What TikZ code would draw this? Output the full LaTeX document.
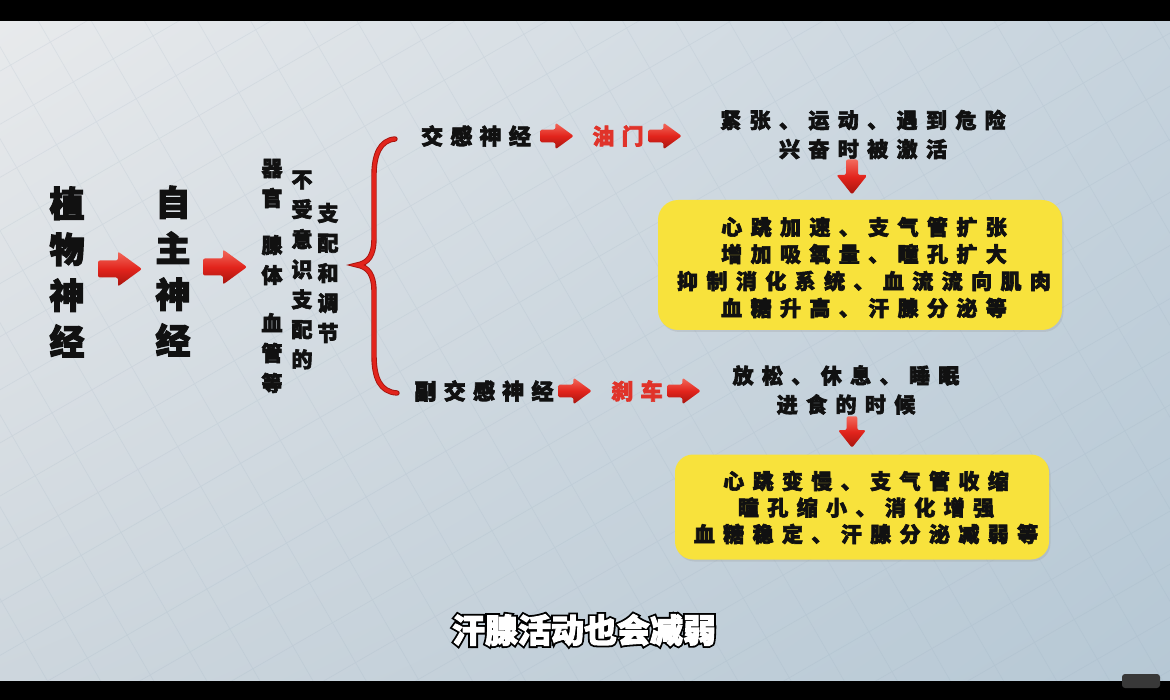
\documentclass[tikz,border=0pt]{standalone}
\usepackage{fontspec}
\usetikzlibrary{calc,shadows,shadings}
\newfontfamily\cjk{Noto Sans CJK SC}[BoldFeatures={FakeBold=3}]
\newfontfamily\cjkl{Noto Sans CJK SC}[LetterSpace=33,BoldFeatures={FakeBold=3}]
\newfontfamily\cjks{Noto Sans CJK SC}[LetterSpace=40,BoldFeatures={FakeBold=3}]
\newfontfamily\cjkout{Noto Sans CJK SC}[BoldFeatures={FakeBold=14}]
\definecolor{ared}{HTML}{E2241C}
\definecolor{ared2}{HTML}{F26A5C}
\definecolor{ared3}{HTML}{A5140E}
\definecolor{rtext}{HTML}{E0332A}
\definecolor{yel}{HTML}{F8E23C}
\definecolor{txt}{HTML}{111111}
\definecolor{bgA}{HTML}{E8EAEC}
\definecolor{bgB}{HTML}{C6D3DD}
\definecolor{bgC}{HTML}{CDD6DD}
\definecolor{bgD}{HTML}{B6C8D5}
\definecolor{gridc}{HTML}{8FA5B8}
\tikzset{
  bigtxt/.style={font=\cjk\bfseries\fontsize{35}{46}\selectfont, align=center, inner sep=0pt, text=txt},
  coltxt/.style={font=\cjk\bfseries\fontsize{21}{30}\selectfont, align=center, inner sep=0pt, text=txt},
  lbl/.style={font=\cjkl\bfseries\fontsize{22}{28}\selectfont, inner sep=0pt, text=txt},
  rlbl/.style={lbl, text=rtext},
  desc/.style={font=\cjks\bfseries\fontsize{21}{29}\selectfont, align=center, inner sep=0pt, text=txt},
  boxtxt/.style={font=\cjks\bfseries\fontsize{21}{27}\selectfont, align=center, inner sep=0pt, text=txt},
  boxtxtb/.style={font=\cjks\bfseries\fontsize{21}{26.5}\selectfont, align=center, inner sep=0pt, text=txt},
  ybox/.style={fill=yel, rounded corners=20pt, draw=none, inner sep=0pt,
    drop shadow={shadow xshift=1.5pt, shadow yshift=-2pt, opacity=0.18}},
  subt/.style={font=\cjk\bfseries\fontsize{33}{33}\selectfont, inner sep=0pt},
  subo/.style={font=\cjkout\bfseries\fontsize{33}{33}\selectfont, inner sep=0pt},
  gridl/.style={draw=gridc, line width=0.7pt, opacity=0.14},
  redshade/.style={top color=ared2, bottom color=ared3, middle color=ared, rounded corners=2pt},
  rarrow/.pic={\shade[redshade] (-22,-8.5) -- (-2,-8.5) -- (-2,-17.5) -- (22,0) -- (-2,17.5) -- (-2,8.5) -- (-22,8.5) -- cycle;},
  darrow/.pic={\shade[redshade] (-6,-17.5) -- (6,-17.5) -- (6,-2) -- (15.5,-2) -- (0,17.5) -- (-15.5,-2) -- (-6,-2) -- cycle;},
}
\begin{document}
\begin{tikzpicture}[x=1pt,y=-1pt]
\useasboundingbox (0,0) rectangle (1170,700);
\fill[black] (0,0) rectangle (1170,700);
\shade[upper left=bgA, upper right=bgB, lower left=bgC, lower right=bgD] (0,22) rectangle (1170,680);
\begin{scope}
  \clip (0,22) rectangle (1170,680);
  \draw[gridl, rotate around={30:(585,350)}] (-700,-700) grid[step=46pt] (1900,1400);
\end{scope}

% left columns
\node[bigtxt] (zw) at (67,272) {植\\物\\神\\经};
\node[bigtxt] (zz) at (173,271) {自\\主\\神\\经};
\pic at (120,269) {rarrow};
\pic at (225,267) {rarrow};

% middle columns
\node[coltxt] (c1) at (272,276) {器\\官\\[17pt]腺\\体\\[18pt]血\\管\\等};
\node[coltxt] (c2) at (302,270) {不\\受\\意\\识\\支\\配\\的};
\node[coltxt] (c3) at (328,273) {支\\配\\和\\调\\节};

% brace
\draw[draw=ared3, line width=0.9pt, double=ared, double distance=3.6pt, line cap=round]
  (395,139) .. controls (380,140) and (374,155) .. (374,175) -- (374,238)
  .. controls (374,256) and (368,263) .. (357,265)
  .. controls (368,267) and (374,274) .. (374,292) -- (374,355)
  .. controls (374,378) and (380,392) .. (397,393);

% sympathetic branch
\node[lbl] (jg) at (476,136) {交感神经};
\pic[scale=0.76] at (557,136) {rarrow};
\node[rlbl] (ym) at (618,136) {油门};
\pic[scale=0.76] at (665,136) {rarrow};
\node[desc] (t1) at (863,134.5) {紧张、运动、遇到危险\\兴奋时被激活};
\pic at (852,177) {darrow};
\node[ybox, minimum width=404pt, minimum height=130pt] (b1) at (860,265) {};
\node[boxtxt] (b1t) at (864,267.5) {心跳加速、支气管扩张\\增加吸氧量、瞳孔扩大\\抑制消化系统、血流流向肌肉\\血糖升高、汗腺分泌等};

% parasympathetic branch
\node[lbl] (fjg) at (484,391) {副交感神经};
\pic[scale=0.76] at (575,391) {rarrow};
\node[rlbl] (sc) at (637,391) {刹车};
\pic[scale=0.76] at (684,391) {rarrow};
\node[desc] (t2) at (846,390) {放松、休息、睡眠\\进食的时候};
\pic[scale=0.9] at (852,432) {darrow};
\node[ybox, minimum width=374pt, minimum height=105pt, rounded corners=18pt] (b2) at (862,507) {};
\node[boxtxtb] (b2t) at (866,507.5) {心跳变慢、支气管收缩\\瞳孔缩小、消化增强\\血糖稳定、汗腺分泌减弱等};

% subtitle (black outline under white text)
\node[subo, text=black] (subo) at (584,630) {汗腺活动也会减弱};
\node[subt, text=white] (sub) at (subo.center) {汗腺活动也会减弱};

% logo
\node[fill=black!78, rounded corners=3pt, minimum width=38pt, minimum height=14pt, inner sep=0pt] (logo) at (1141,681) {};
\end{tikzpicture}
\end{document}
